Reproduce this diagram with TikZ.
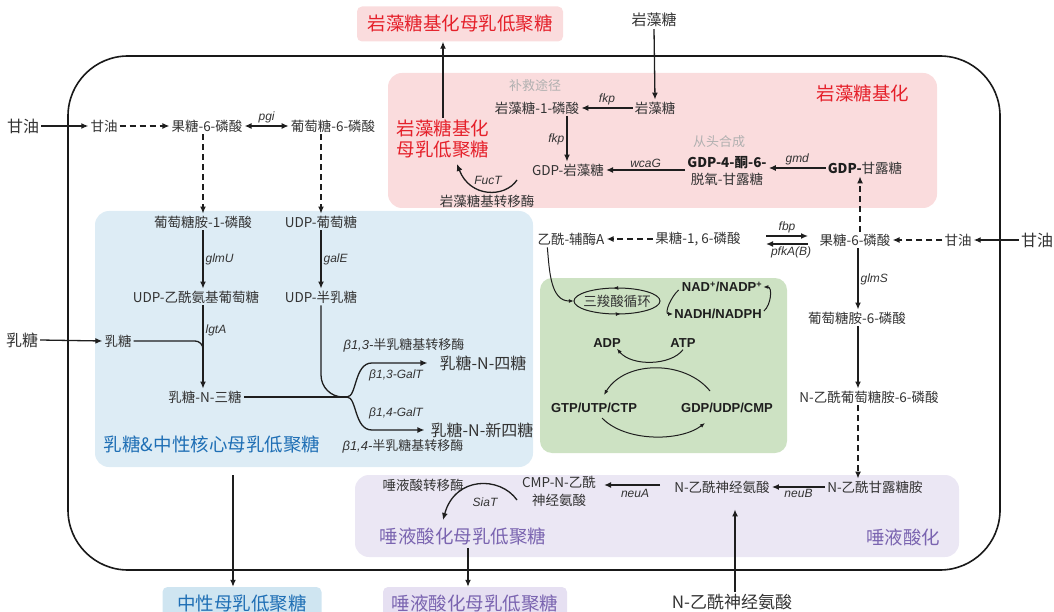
\documentclass[tikz,border=0pt]{standalone}
\usepackage{fontspec}
\setmainfont{Noto Sans CJK SC}
\newfontfamily\lat{Liberation Sans}
\usetikzlibrary{arrows.meta,calc,decorations.markings}
\definecolor{txt}{HTML}{333333}
\definecolor{txtd}{HTML}{1E1E1E}
\definecolor{redt}{HTML}{E5202A}
\definecolor{bluet}{HTML}{1F6FB5}
\definecolor{purt}{HTML}{7A64B0}
\definecolor{greyt}{HTML}{B0B0B0}
\definecolor{pinkf}{HTML}{FADCDD}
\definecolor{bluef}{HTML}{DDECF5}
\definecolor{greenf}{HTML}{CDE2C3}
\definecolor{purf}{HTML}{EBE7F4}
\definecolor{blueb}{HTML}{CFE5F1}
\definecolor{purb}{HTML}{E6E0F2}
\tikzset{
  t/.style={font=\fontsize{13.5}{16}\selectfont, text=txt, inner sep=2pt},
  big/.style={font=\fontsize{16}{18}\selectfont, text=txt, inner sep=2pt},
  ttl/.style={font=\fontsize{18.5}{22}\selectfont, inner sep=2pt},
  gene/.style={font=\lat\itshape\fontsize{12}{14}\selectfont, text=txt, inner sep=2pt},
  bt/.style={font=\lat\bfseries\fontsize{13}{15}\selectfont, text=txtd, inner sep=2pt},
  gry/.style={font=\fontsize{13}{15}\selectfont, text=greyt, inner sep=2pt},
  arr/.style={draw=txtd, line width=1.3pt, -{Latex[length=7pt,width=6pt]}},
  darr/.style={arr, dash pattern=on 6pt off 4pt},
  barr/.style={draw=txtd, line width=1.3pt, {Latex[length=7pt,width=6pt]}-{Latex[length=7pt,width=6pt]}},
  ln/.style={draw=txtd, line width=1.3pt},
  sarr/.style={draw=txtd, line width=1pt, -{Latex[length=5pt,width=4pt]}},
}
\begin{document}
\begin{tikzpicture}[x=1pt,y=-1pt]
\useasboundingbox (0,0) rectangle (1054,612);
% region boxes
\fill[pinkf, rounded corners=14pt] (388,73) rectangle (937,208);
\fill[bluef, rounded corners=14pt] (95,211) rectangle (533,467);
\fill[greenf, rounded corners=12pt] (540,278) rectangle (787,453);
\fill[purf, rounded corners=14pt] (355,475) rectangle (959,557);
% cell
\draw[line width=1.6pt, draw=black!90, rounded corners=60pt] (68,56) rectangle (1000,570);

% ---------- top / outside products
\node[ttl, text=redt, fill=pinkf, rounded corners=5pt, minimum width=206pt, minimum height=35pt] (topfuc) at (460,24) {岩藻糖基化母乳低聚糖};
\node[ttl, text=bluet, fill=blueb, rounded corners=5pt, minimum width=159pt, minimum height=34pt] (neuHMO) at (242,604) {中性母乳低聚糖};
\node[ttl, text=purt, fill=purb, rounded corners=5pt, minimum width=184pt, minimum height=34pt] (siaOut) at (475,604) {唾液酸化母乳低聚糖};

% ---------- left glycerol row
\node[big] (glyL) at (23,126) {甘油};
\node[t] (glyin) at (104,126) {甘油};
\draw[arr] (glyL.east) -- (glyin.west);
\node[t] (f6p) at (207,126) {果糖-6-磷酸};
\draw[darr] (glyin.east) -- (f6p.west);
\node[t] (g6p) at (333,126) {葡萄糖-6-磷酸};
\draw[barr] (f6p.east) -- (g6p.west) node[midway, above, gene] (pgi) {pgi};

% ---------- blue region
\node[t] (gn1p) at (203,222) {葡萄糖胺-1-磷酸};
\node[t] (udpg) at (321,222) {UDP-葡萄糖};
\draw[darr] (gn1p.north |- f6p.south) -- (gn1p.north);
\draw[darr] (udpg.north |- g6p.south) -- (udpg.north);
\node[t] (udpgn) at (196,297) {UDP-乙酰氨基葡萄糖};
\node[t] (udpgal) at (321,297) {UDP-半乳糖};
\draw[arr] (gn1p.south) -- (gn1p.south |- udpgn.north) node[midway, right, gene] (glmU) {glmU};
\draw[arr] (udpg.south) -- (udpg.south |- udpgal.north) node[midway, right, gene] (galE) {galE};

\node[big] (lacL) at (22,340) {乳糖};
\node[t] (lac) at (118,341) {乳糖};
\draw[arr] (lacL.east) -- (lac.west);
\node[t] (lnt2) at (205,397) {乳糖-N-三糖};
\coordinate (m1) at (gn1p.south |- 0,358);
\draw[arr] (gn1p.south |- udpgn.south) -- (gn1p.south |- lnt2.north) node[pos=0.3, right, gene] (lgtA) {lgtA};
\draw[ln, rounded corners=8pt] (lac.east) -| (m1);

\coordinate (jn) at (347,397);
\draw[ln] (lnt2.east) -- (jn);
\draw[ln, rounded corners=22pt] (udpgal.south) |- (jn);
\node[font=\fontsize{16}{18}\selectfont, text=txt, inner sep=2pt] (lnt4) at (483,363) {乳糖-N-四糖};
\node[font=\fontsize{16}{18}\selectfont, text=txt, inner sep=2pt] (lnnt) at (482,430) {乳糖-N-新四糖};
\draw[arr, shorten >=10pt] (jn) .. controls (357,397) and (354,363) .. (372,363) -- (lnt4.west);
\draw[arr, shorten >=4pt] (jn) .. controls (357,397) and (354,430) .. (372,430) -- (lnnt.west);
\node[t, font=\fontsize{13}{15}\selectfont] (b13e) at (404,345) {{\lat\itshape β1,3-}半乳糖基转移酶};
\node[gene] (b13g) at (396,375) {β1,3-GalT};
\node[gene] (b14g) at (396,413) {β1,4-GalT};
\node[t, font=\fontsize{13}{15}\selectfont] (b14e) at (403,446) {{\lat\itshape β1,4-}半乳糖基转移酶};
\node[ttl, text=bluet] (neut) at (212,445) {乳糖\&中性核心母乳低聚糖};
\coordinate (na) at (233,475);
\draw[arr] (na) -- (na |- neuHMO.north);

% ---------- pink region
\node[big, font=\fontsize{15}{17}\selectfont] (fucTop) at (654,20) {岩藻糖};
\node[t] (fuc) at (655,108) {岩藻糖};
\draw[arr] (fucTop.south) -- (fuc.north);
\node[gry] (salv) at (535,86) {补救途径};
\node[t] (f1p) at (537,108) {岩藻糖-1-磷酸};
\draw[arr] (fuc.west) -- (f1p.east) node[midway, above, gene] (fkp1) {fkp};
\node[t] (gdpf) at (568,170) {GDP-岩藻糖};
\draw[arr] ($(f1p.south)+(30,0)$) -- ($(gdpf.north)+(-1,0)$) node[midway, left, gene] (fkp2) {fkp};
\node[gry] (denovo) at (719,142) {从头合成};
\node[font=\fontsize{13.5}{17}\selectfont, text=txt, align=center, inner sep=2pt] (gdp4k) at (727,171) {{\bfseries\color{txtd}GDP-4-酮-6-}\\脱氧-甘露糖};
\draw[arr] (gdp4k.west |- gdpf.east) -- (gdpf.east) node[midway, above, gene] (wcaG) {wcaG};
\node[t] (gdpm) at (865,168) {{\bfseries\color{txtd}GDP-}甘露糖};
\draw[arr] (gdpm.west) -- (gdpm.west -| gdp4k.east) node[midway, above, gene] (gmd) {gmd};
\node[ttl, text=redt] (fuct) at (863,93) {岩藻糖基化};
\node[ttl, text=redt, align=center, font=\fontsize{18.5}{21}\selectfont] (fucin) at (443,139) {岩藻糖基化\\母乳低聚糖};
\draw[arr] (fucin.north) -- (fucin.north |- topfuc.south);
\coordinate (ft1) at (517,180);
\coordinate (ft2) at (457,164);
\draw[arr] (ft1) .. controls (505,198) and (470,198) .. (ft2);
\node[gene] (fucT) at (488,180) {FucT};
\node[t] (fucte) at (487,201) {岩藻糖基转移酶};

% ---------- middle row
\node[t] (acoa) at (571,239) {乙酰-辅酶A};
\node[t] (f16p) at (698,239) {果糖-1, 6-磷酸};
\draw[darr] (f16p.west) -- (acoa.east);
\node[t] (f6p2) at (855,240) {果糖-6-磷酸};
\coordinate (h1) at (766,236);
\coordinate (h2) at (808,236);
\coordinate (h3) at (808,244);
\coordinate (h4) at (766,244);
\draw[arr] (h1) -- (h2) node[midway, above, gene] (fbp) {fbp};
\draw[arr] (h3) -- (h4) node[midway, below, gene, xshift=4pt] (pfk) {pfkA(B)};
\node[t] (glyR) at (958,240) {甘油};
\node[big] (glyRo) at (1037,240) {甘油};
\draw[darr] (glyR.west) -- (f6p2.east);
\draw[arr] (glyRo.west) -- (glyR.east);
\draw[darr] ($(f6p2.north)+(5,0)$) -- ($(gdpm.south)+(-5,0)$);
\node[t] (gn6p) at (857,318) {葡萄糖胺-6-磷酸};
\draw[arr] ($(f6p2.south)+(3,0)$) -- ($(gn6p.north)+(1,0)$) node[midway, right, gene] (glmS) {glmS};
\node[t] (nag6p) at (869,397) {N-乙酰葡萄糖胺-6-磷酸};
\draw[arr] ($(gn6p.south)+(1,0)$) -- ($(gn6p.south |- nag6p.north)+(1,0)$);
\node[t] (manNAc) at (875,487) {N-乙酰甘露糖胺};
\draw[darr] ($(gn6p.south |- nag6p.south)+(1,0)$) -- ($(gn6p.south |- manNAc.north)+(1,0)$);

% ---------- purple region
\node[t] (neu5ac) at (722,487) {N-乙酰神经氨酸};
\draw[arr] (manNAc.west) -- (neu5ac.east) node[midway, below, gene] (neuB) {neuB};
\node[big, font=\fontsize{17}{19}\selectfont] (neuOut) at (732,602) {N-乙酰神经氨酸};
\draw[arr, shorten >=14pt] ($(neuOut.north)+(3,0)$) -- ($(neuOut.north |- neu5ac.south)+(3,0)$);
\node[t, align=center, font=\fontsize{13.5}{18}\selectfont] (cmp) at (559,491) {CMP-N-乙酰\\神经氨酸};
\draw[arr, shorten <=12pt, shorten >=6pt] ($(neu5ac.west)+(0,-2)$) -- ($(neu5ac.west -| cmp.east)+(0,-2)$) node[midway, below, gene, yshift=-2pt] (neuA) {neuA};
\node[t] (siat) at (423,485) {唾液酸转移酶};
\coordinate (s1) at (517,500);
\coordinate (s2) at (443,520);
\draw[arr] (s1) .. controls (500,476) and (455,476) .. (s2);
\node[gene] (SiaT) at (485,502) {SiaT};
\node[ttl, text=purt] (siaHMO) at (463,537) {唾液酸化母乳低聚糖};
\node[ttl, text=purt] (sial) at (903,537) {唾液酸化};
\draw[arr] ($(siaHMO.south)+(5,0)$) -- ($(siaHMO.south |- siaOut.north)+(5,0)$);

% ---------- green region
\node[t, minimum width=86pt, minimum height=26pt, inner sep=0pt] (tca) at (617,301) {三羧酸循环};
\draw[line width=1pt, draw=txtd, postaction={decorate}, decoration={markings, mark=at position 0.27 with {\arrow{Latex[length=5pt,width=4pt]}}, mark=at position 0.77 with {\arrow{Latex[length=5pt,width=4pt]}}}] (tca.center) ellipse [x radius=43pt, y radius=13pt];
\draw[sarr] ($(acoa.south west)+(12,0)$) to[out=-85, in=180] (tca.west);
\node[bt] (nad) at (722,287) {NAD\textsuperscript{+}/NADP\textsuperscript{+}};
\node[bt] (nadh) at (718,314) {NADH/NADPH};
\draw[sarr] ($(nad.west)+(-1,3)$) to[out=220, in=180] ($(nadh.west)+(1,0)$);
\draw[sarr] ($(nadh.east)+(0,-3)$) to[out=40, in=0] ($(nad.east)+(-1,0)$);
\node[bt] (adp) at (607,343) {ADP};
\node[bt] (atp) at (683,343) {ATP};
\draw[sarr] (atp.south) .. controls +(-12,16) and +(15,18) .. ($(adp.south east)+(-6,-1)$);
\node[bt] (gtp) at (594,408) {GTP/UTP/CTP};
\node[bt] (gdpx) at (727,408) {GDP/UDP/CMP};
\coordinate (c1) at (710,391);
\coordinate (c2) at (604,395);
\coordinate (c3) at (602,418);
\coordinate (c4) at (705,423);
\draw[sarr] (c1) .. controls (685,360) and (625,360) .. (c2);
\draw[sarr] (c3) .. controls (625,442) and (680,442) .. (c4);
\end{tikzpicture}
\end{document}
